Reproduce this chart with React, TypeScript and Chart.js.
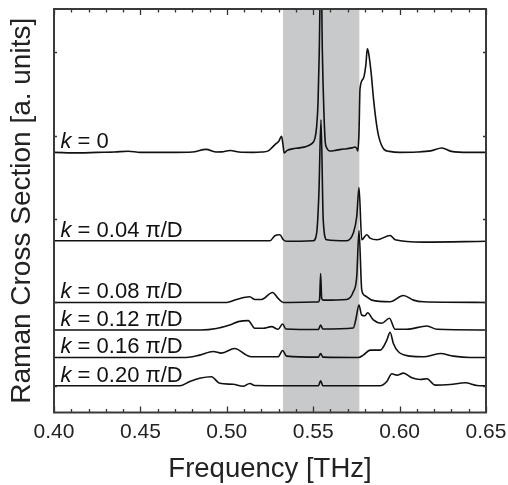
import React, { useEffect, useRef } from "react";
import { Chart, registerables } from "chart.js";

Chart.register(...registerables);

// ---- data (frequency in THz, intensity in a.u. relative to each trace's baseline) ----
const seriesNames = ["0", "0.04 π/D", "0.08 π/D", "0.12 π/D", "0.16 π/D", "0.20 π/D"];
const seriesOffsets = [2.8, 1.74, 1.0, 0.67, 0.34, 0];
const shadedBand = [0.5325, 0.5767];
const xTickValues = [0.4, 0.45, 0.5, 0.55, 0.6, 0.65];
const yTickValues = [0, 1, 2, 3, 4];

const specK000: [number, number][] = [
  [0.4, 0], [0.415, -0.006], [0.425, 0], [0.435, 0.004], [0.443, 0.014], [0.45, 0],
  [0.47, 0], [0.48, 0.004], [0.488, 0.036], [0.494, 0.004], [0.497, 0.006], [0.502, 0.022],
  [0.507, 0.004], [0.515, 0], [0.52, 0.004], [0.524, 0.018], [0.526, 0.054], [0.528, 0.096],
  [0.53, 0.132], [0.5317, 0.192], [0.5325, 0.096], [0.5332, -0.006], [0.535, 0.024],
  [0.538, 0.042], [0.542, 0.054], [0.546, 0.072], [0.549, 0.102], [0.551, 0.168],
  [0.552, 0.312], [0.5528, 0.6], [0.5535, 1.2], [0.5545, 2.4], [0.5553, 1.2], [0.5562, 0.48],
  [0.557, 0.12], [0.5578, 0.056], [0.5597, 0.016], [0.563, 0.024], [0.566, 0.036],
  [0.5694, 0.044], [0.5725, 0.054], [0.5742, 0.064], [0.5752, 0.048], [0.5758, 0.016],
  [0.5765, 0.24], [0.5771, 0.764], [0.579, 0.884], [0.5805, 1.055], [0.5813, 1.243],
  [0.582, 1.2], [0.5835, 0.96], [0.585, 0.624], [0.5865, 0.36], [0.588, 0.183],
  [0.591, 0.036], [0.594, 0.012], [0.6, 0], [0.61, 0.004], [0.618, 0.018], [0.6245, 0.052],
  [0.63, 0.012], [0.64, 0], [0.65, 0],
];

const specK004: [number, number][] = [
  [0.4, 0], [0.525, 0], [0.5278, 0.06], [0.5307, 0.072], [0.5327, 0.012], [0.5346, -0.006],
  [0.55, 0], [0.552, 0.092], [0.5533, 0.572], [0.5545, 1.451], [0.5558, 0.252],
  [0.5578, 0.012], [0.5694, 0], [0.5732, 0.092], [0.5752, 0.291], [0.5765, 0.639],
  [0.5781, 0.012], [0.581, 0.072], [0.5829, 0.032], [0.587, 0.012], [0.5945, 0.064],
  [0.5974, 0.012], [0.6136, -0.016], [0.65, -0.006],
];

const specK008: [number, number][] = [
  [0.4, 0], [0.5, 0], [0.5056, 0.036], [0.5133, 0.068], [0.5162, 0.036], [0.5201, 0.036],
  [0.5265, 0.12], [0.5297, 0.048], [0.5327, 0], [0.5529, 0.006], [0.5537, 0.04],
  [0.5543, 0.348], [0.5549, 0.05], [0.5558, 0.028], [0.5694, 0.036], [0.5732, 0.128],
  [0.5752, 0.312], [0.5765, 0.863], [0.5781, 0.147], [0.58, 0.08], [0.5839, 0.028],
  [0.5945, 0.008], [0.6022, 0.084], [0.608, 0.028], [0.6138, 0.008], [0.65, 0],
];

const specK012: [number, number][] = [
  [0.4, 0], [0.485, 0], [0.494, 0.018], [0.5017, 0.06], [0.5066, 0.1], [0.5124, 0.112],
  [0.5162, 0.02], [0.521, 0.02], [0.5259, 0.04], [0.5297, 0.008], [0.5323, 0.072],
  [0.5342, 0.012], [0.553, 0.006], [0.5543, 0.06], [0.5556, 0.012], [0.5732, 0.024],
  [0.5746, 0.12], [0.5765, 0.3], [0.578, 0.18], [0.58, 0.171], [0.5815, 0.207],
  [0.5848, 0.12], [0.5897, 0.08], [0.5941, 0.14], [0.5974, 0.008], [0.6042, 0.008],
  [0.6158, 0.048], [0.6216, 0.008], [0.65, 0],
];

const specK016: [number, number][] = [
  [0.4, 0], [0.4766, 0], [0.4843, 0.028], [0.4921, 0.072], [0.4969, 0.052], [0.5046, 0.108],
  [0.5114, 0.028], [0.5143, 0.008], [0.5297, 0.008], [0.5323, 0.084], [0.5346, 0.016],
  [0.553, 0.004], [0.5543, 0.048], [0.5556, 0.004], [0.5761, 0], [0.579, 0.028],
  [0.5829, 0.088], [0.5887, 0.088], [0.5926, 0.207], [0.5945, 0.303], [0.5964, 0.168],
  [0.5993, 0.068], [0.6061, 0.016], [0.6138, 0.008], [0.6235, 0.048], [0.6312, 0.016],
  [0.6409, 0], [0.65, 0],
];

const specK020: [number, number][] = [
  [0.4, 0], [0.4728, 0], [0.4786, 0.052], [0.4843, 0.09], [0.4911, 0.108], [0.4959, 0.03],
  [0.5036, 0.018], [0.5094, -0.006], [0.5133, 0.028], [0.5162, 0.004], [0.553, 0],
  [0.5543, 0.06], [0.5556, 0], [0.5887, 0], [0.5926, 0.052], [0.5955, 0.144],
  [0.5984, 0.128], [0.6022, 0.152], [0.6071, 0.096], [0.6119, 0.076], [0.6158, 0.084],
  [0.6206, 0.008], [0.6293, 0.016], [0.638, 0.036], [0.6448, 0.004], [0.65, 0],
];

const allSpectra = [specK000, specK004, specK008, specK012, specK016, specK020];

const FONT = '"Liberation Sans", Arial, Helvetica, sans-serif';

const decorPlugin = {
  id: "decor",
  beforeDatasetsDraw(chart: any) {
    const { ctx, chartArea, scales } = chart;
    const x = scales.x;
    const x0 = x.getPixelForValue(shadedBand[0]);
    const x1 = x.getPixelForValue(shadedBand[1]);
    ctx.save();
    ctx.fillStyle = "#c8c9cb";
    ctx.fillRect(x0, chartArea.top, x1 - x0, chartArea.bottom - chartArea.top);
    ctx.restore();
  },
  afterDatasetsDraw(chart: any) {
    const { ctx, chartArea, scales } = chart;
    const { left, right, top, bottom } = chartArea;
    const x = scales.x;
    const y = scales.y;
    ctx.save();
    // ticks
    ctx.strokeStyle = "#333";
    ctx.lineWidth = 1.3;
    ctx.beginPath();
    for (let i = 0; i <= 25; i++) {
      const v = 0.4 + i * 0.01;
      const px = Math.round(x.getPixelForValue(v)) + 0.5;
      const len = i % 5 === 0 ? 6 : 3.5;
      ctx.moveTo(px, bottom);
      ctx.lineTo(px, bottom - len);
      ctx.moveTo(px, top);
      ctx.lineTo(px, top + len);
    }
    yTickValues.forEach((v) => {
      const py = Math.round(y.getPixelForValue(v)) + 0.5;
      ctx.moveTo(left, py);
      ctx.lineTo(left + 3, py);
      ctx.moveTo(right, py);
      ctx.lineTo(right - 3, py);
    });
    ctx.stroke();
    // frame
    ctx.strokeStyle = "#3a3a3a";
    ctx.lineWidth = 2;
    ctx.strokeRect(left, top, right - left, bottom - top);
    // trace labels
    ctx.fillStyle = "#111";
    ctx.textBaseline = "alphabetic";
    seriesNames.forEach((name, i) => {
      const lx = x.getPixelForValue(0.4) + 6.5;
      const ly = y.getPixelForValue(seriesOffsets[i]) - 4;
      ctx.font = `italic 22px ${FONT}`;
      ctx.fillText("k", lx, ly);
      const w = ctx.measureText("k").width;
      ctx.font = `22px ${FONT}`;
      ctx.fillText(" = " + name, lx + w, ly);
    });
    ctx.restore();
  },
};

export default function App() {
  const ref = useRef<HTMLCanvasElement | null>(null);
  useEffect(() => {
    if (!ref.current) return;
    Chart.defaults.font.family = FONT;
    const datasets = allSpectra.map((spec, i) => ({
      label: "k = " + seriesNames[i],
      data: spec.map(([f, v]) => ({ x: f, y: v + seriesOffsets[i] })),
      borderColor: "#111",
      borderWidth: 1.6,
      pointRadius: 0,
      fill: false,
      cubicInterpolationMode: "monotone" as const,
    }));
    const chart = new Chart(ref.current, {
      type: "line",
      data: { datasets },
      plugins: [decorPlugin],
      options: {
        animation: false,
        responsive: false,
        devicePixelRatio: 1,
        layout: { padding: { top: 9, right: 22, left: 0, bottom: 0 } },
        plugins: { legend: { display: false }, tooltip: { enabled: false } },
        scales: {
          x: {
            type: "linear",
            min: 0.4,
            max: 0.65,
            afterFit: (s: any) => {
              s.height = 72.5;
              s.paddingLeft = 0;
              s.paddingRight = 0;
            },
            afterBuildTicks: (s: any) => {
              s.ticks = xTickValues.map((v) => ({ value: v }));
            },
            ticks: {
              callback: (v: any) => Number(v).toFixed(2),
              font: { size: 21 },
              color: "#222",
              padding: 7,
              maxRotation: 0,
              autoSkip: false,
            },
            grid: { display: false, drawTicks: false },
            border: { display: false },
            title: {
              display: true,
              text: "Frequency [THz]",
              font: { size: 27.5, lineHeight: 1.1 },
              color: "#222",
              padding: 0,
            },
          },
          y: {
            type: "linear",
            min: -0.32,
            max: 4.52,
            afterFit: (s: any) => {
              s.width = 54;
            },
            ticks: { display: false },
            grid: { display: false, drawTicks: false },
            border: { display: false },
            title: {
              display: true,
              text: "Raman Cross Section [a. units]",
              font: { size: 28, lineHeight: 1.2 },
              color: "#222",
              padding: { top: 5, bottom: 0 },
            },
          },
        },
      },
    });
    return () => chart.destroy();
  }, []);
  return (
    <div style={{ position: "fixed", left: 0, top: 0, width: 508, height: 485, background: "#fff" }}>
      <canvas ref={ref} width={508} height={485} />
    </div>
  );
}
